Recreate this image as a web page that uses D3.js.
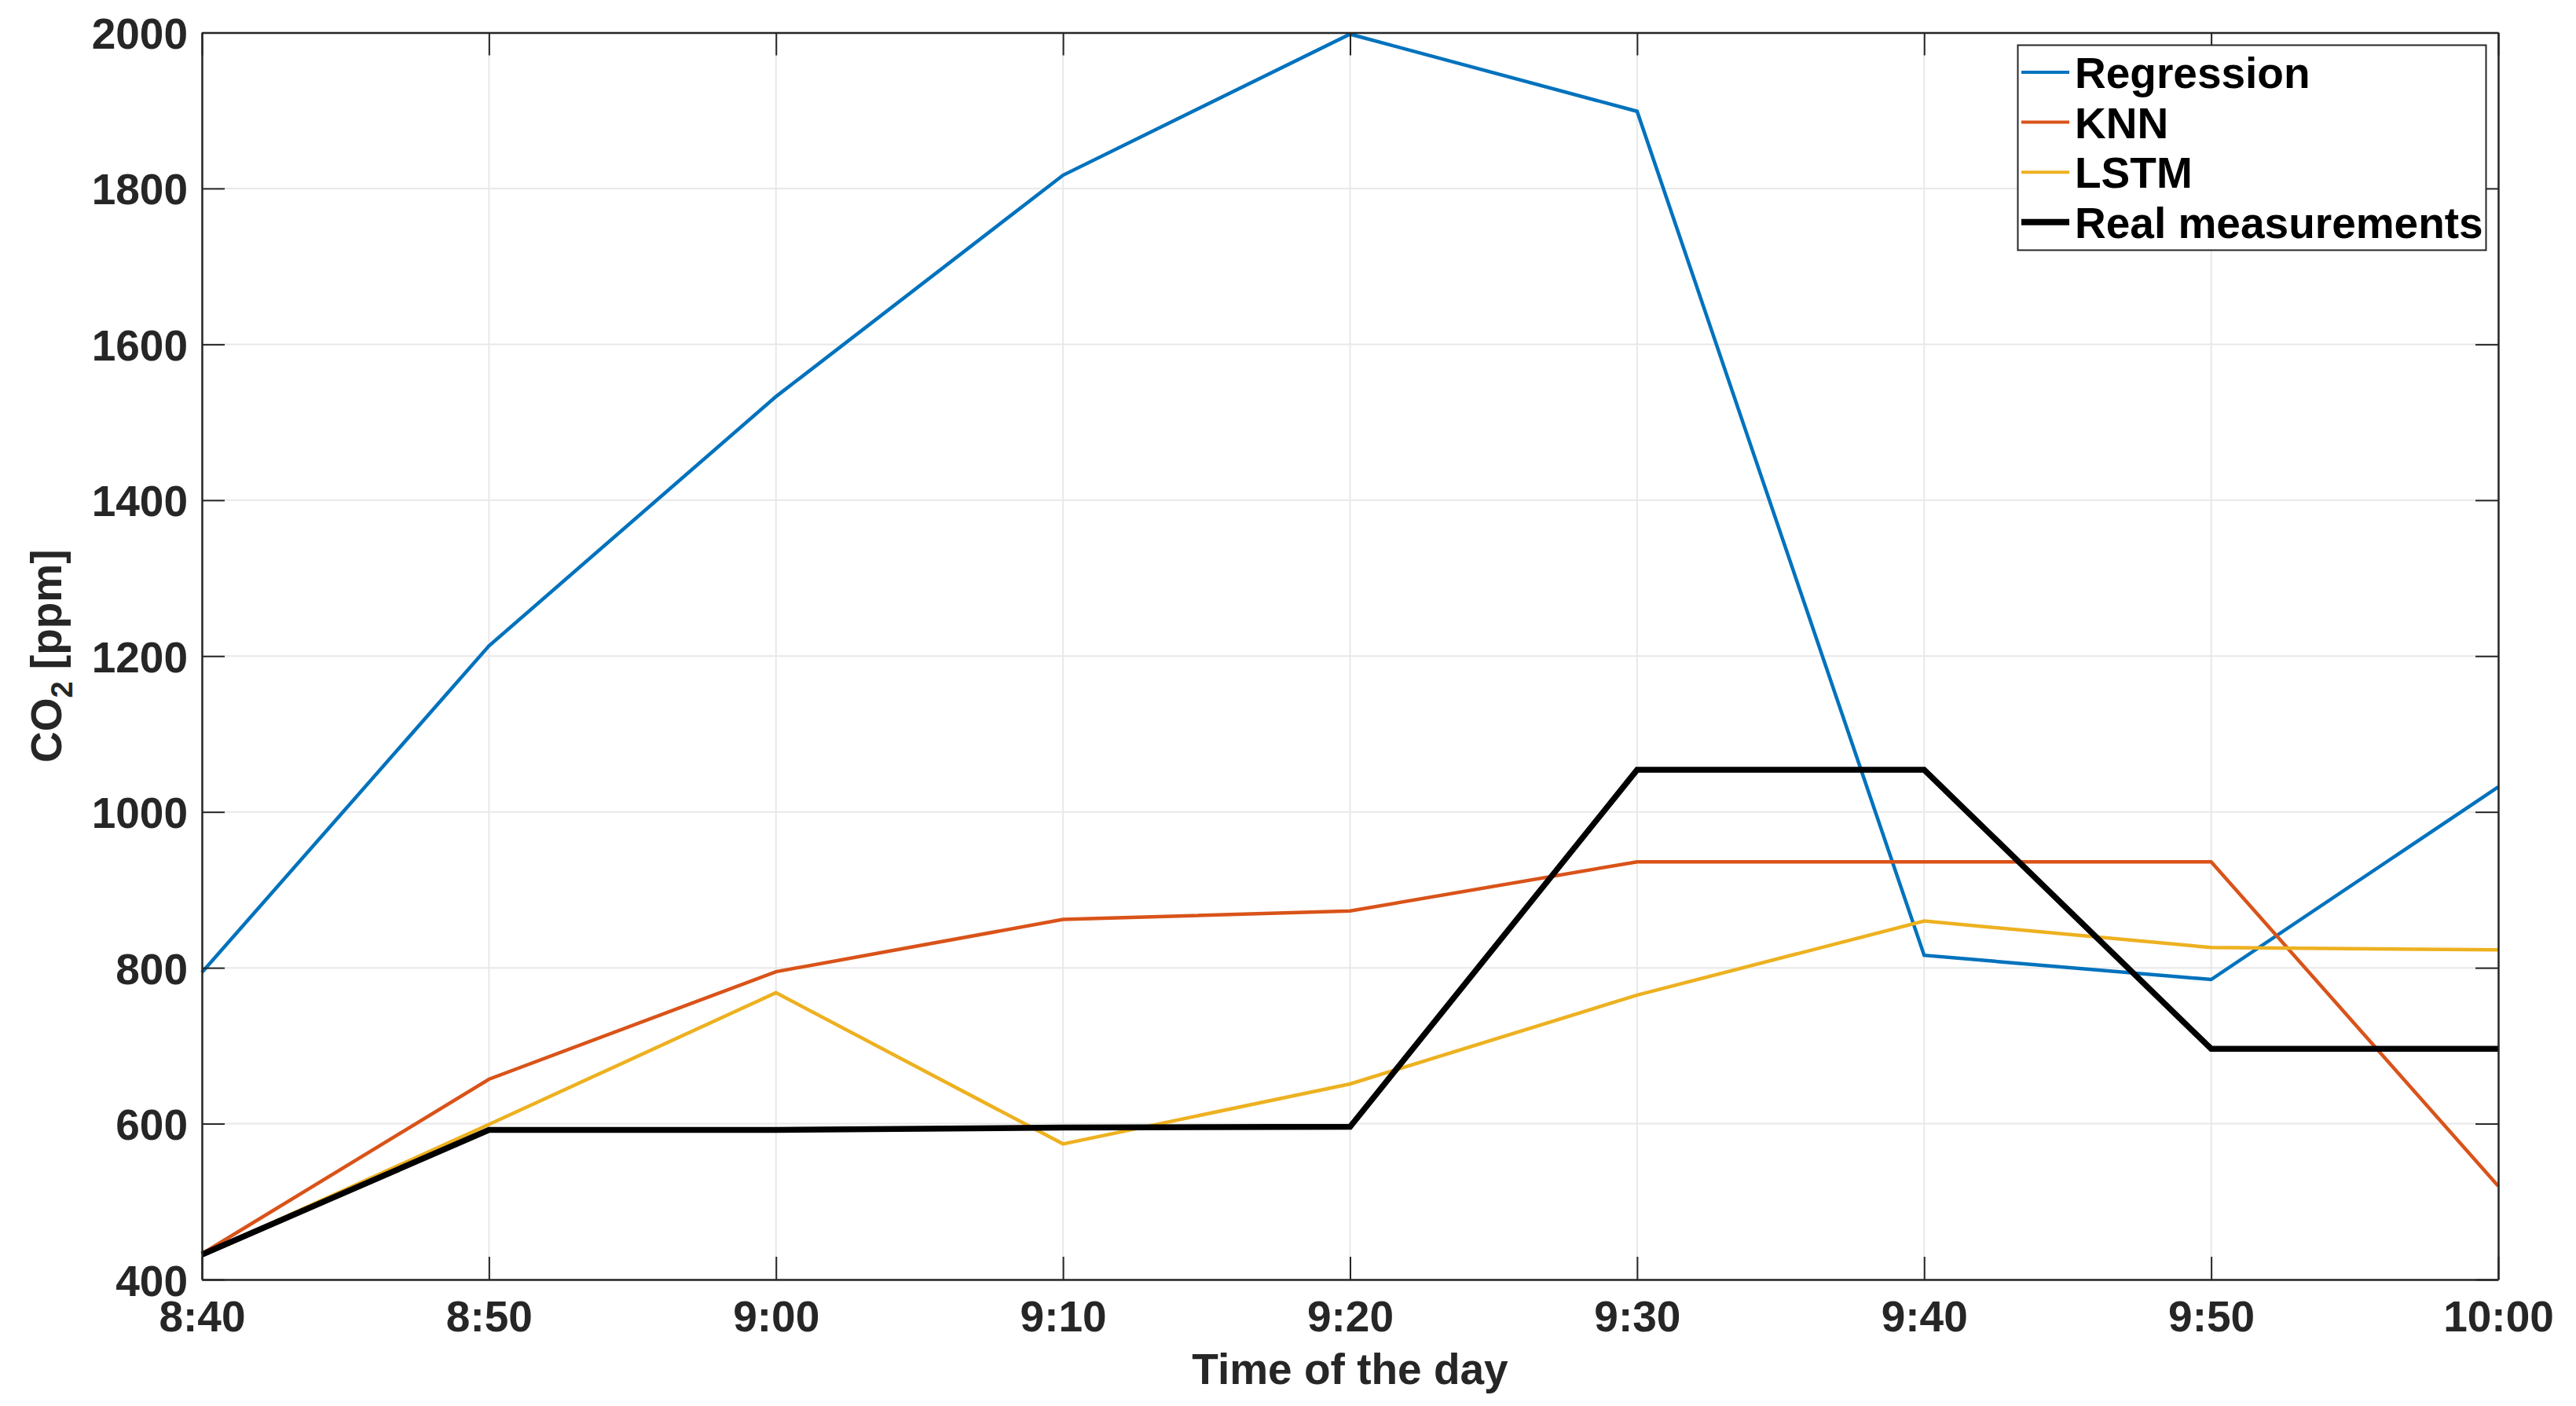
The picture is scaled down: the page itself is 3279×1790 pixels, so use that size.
<!DOCTYPE html>
<html><head><meta charset="utf-8">
<script src="https://cdn.jsdelivr.net/npm/d3@7"></script>
<style>html,body{margin:0;padding:0;background:#fff;}svg{display:block;}</style>
</head><body>
<script>
const times = ["8:40","8:50","9:00","9:10","9:20","9:30","9:40","9:50","10:00"];
const regression = [794, 1213, 1533, 1817, 1998, 1899, 816, 785, 1032];
const knn = [433, 657, 795, 862, 873, 936, 936, 936, 520];
const lstm = [432, 599, 768, 574, 651, 765, 860, 826, 823];
const realMeas = [432, 592, 592, 595, 596, 1054, 1054, 696, 696];
const yTicks = [400, 600, 800, 1000, 1200, 1400, 1600, 1800, 2000];
const seriesNames = ["Regression", "KNN", "LSTM", "Real measurements"];

const W = 3279, H = 1790;
const m = {left: 257, right: 3180, top: 41.5, bottom: 1629};
const font = "'Liberation Sans', Arial, Helvetica, sans-serif";
const axisColor = "#262626";

const svg = d3.select("body").append("svg").attr("width", W).attr("height", H);

const x = d3.scaleLinear().domain([0, times.length - 1]).range([m.left, m.right]);
const y = d3.scaleLinear().domain([400, 2000]).range([m.bottom, m.top]);

// grid
const g = svg.append("g");
g.selectAll(".vg").data(d3.range(times.length)).enter().append("line")
  .attr("x1", d => x(d)).attr("x2", d => x(d)).attr("y1", m.top).attr("y2", m.bottom)
  .attr("stroke", "#e8e8e8").attr("stroke-width", 2);
g.selectAll(".hg").data(yTicks).enter().append("line")
  .attr("y1", d => y(d)).attr("y2", d => y(d)).attr("x1", m.left).attr("x2", m.right)
  .attr("stroke", "#e8e8e8").attr("stroke-width", 2);

// series
const series = [
  {name: seriesNames[0], vals: regression, color: "#0072BD", w: 4.5},
  {name: seriesNames[1], vals: knn, color: "#D95319", w: 4.5},
  {name: seriesNames[2], vals: lstm, color: "#EDB120", w: 4.5},
  {name: seriesNames[3], vals: realMeas, color: "#000000", w: 7.5}
];
const line = d3.line().x((d, i) => x(i)).y(d => y(d));
series.forEach(s => {
  svg.append("path").datum(s.vals).attr("d", line)
    .attr("fill", "none").attr("stroke", s.color).attr("stroke-width", s.w)
    .attr("stroke-linejoin", "miter");
});

// axes (box with inward ticks on all sides)
const tickLen = 29;
const xb = d3.axisBottom(x).tickValues(d3.range(times.length)).tickFormat(i => times[i])
  .tickSizeInner(-tickLen).tickSizeOuter(0).tickPadding(0);
const xt = d3.axisTop(x).tickValues(d3.range(times.length)).tickFormat("")
  .tickSizeInner(-tickLen).tickSizeOuter(0);
const yl = d3.axisLeft(y).tickValues(yTicks).tickFormat(d3.format("d"))
  .tickSizeInner(-tickLen).tickSizeOuter(0).tickPadding(0);
const yr = d3.axisRight(y).tickValues(yTicks).tickFormat("")
  .tickSizeInner(-tickLen).tickSizeOuter(0);

function style(sel) {
  sel.selectAll("path.domain").attr("stroke", axisColor).attr("stroke-width", 2.5);
  sel.selectAll(".tick line").attr("stroke", axisColor).attr("stroke-width", 2);
  sel.selectAll(".tick text").attr("fill", axisColor).attr("font-family", font)
    .attr("font-weight", "bold").attr("font-size", 55);
  return sel;
}
const gxb = style(svg.append("g").attr("transform", `translate(0,${m.bottom})`).call(xb));
gxb.selectAll(".tick text").attr("y", 66).attr("dy", null);
style(svg.append("g").attr("transform", `translate(0,${m.top})`).call(xt));
const gyl = style(svg.append("g").attr("transform", `translate(${m.left},0)`).call(yl));
gyl.selectAll(".tick text").attr("x", -18).attr("dy", null).attr("dominant-baseline", null)
  .attr("y", 20);
style(svg.append("g").attr("transform", `translate(${m.right},0)`).call(yr));

// axis titles
svg.append("text").attr("x", (m.left + m.right) / 2).attr("y", 1762)
  .attr("text-anchor", "middle").attr("font-family", font).attr("font-weight", "bold")
  .attr("font-size", 55).attr("fill", axisColor).text("Time of the day");

const yt = svg.append("text")
  .attr("transform", `translate(78,${(m.top + m.bottom) / 2}) rotate(-90)`)
  .attr("text-anchor", "middle").attr("font-family", font).attr("font-weight", "bold")
  .attr("font-size", 55).attr("fill", axisColor);
yt.append("tspan").text("CO");
yt.append("tspan").attr("font-size", 38).attr("dy", 14).text("2");
yt.append("tspan").attr("dy", -14).text(" [ppm]");

// legend
const lg = svg.append("g");
lg.append("rect").attr("x", 2568.5).attr("y", 57.5).attr("width", 596).attr("height", 261)
  .attr("fill", "#fff").attr("stroke", axisColor).attr("stroke-width", 2);
series.forEach((s, i) => {
  const cy = 92 + i * 63.6;
  lg.append("line").attr("x1", 2573).attr("x2", 2634).attr("y1", cy).attr("y2", cy)
    .attr("stroke", s.color).attr("stroke-width", i === 3 ? 8 : 4);
  lg.append("text").attr("x", 2641).attr("y", cy + 20).attr("font-family", font)
    .attr("font-weight", "bold").attr("font-size", 55).attr("fill", "#000").text(s.name);
});
</script>
</body></html>
